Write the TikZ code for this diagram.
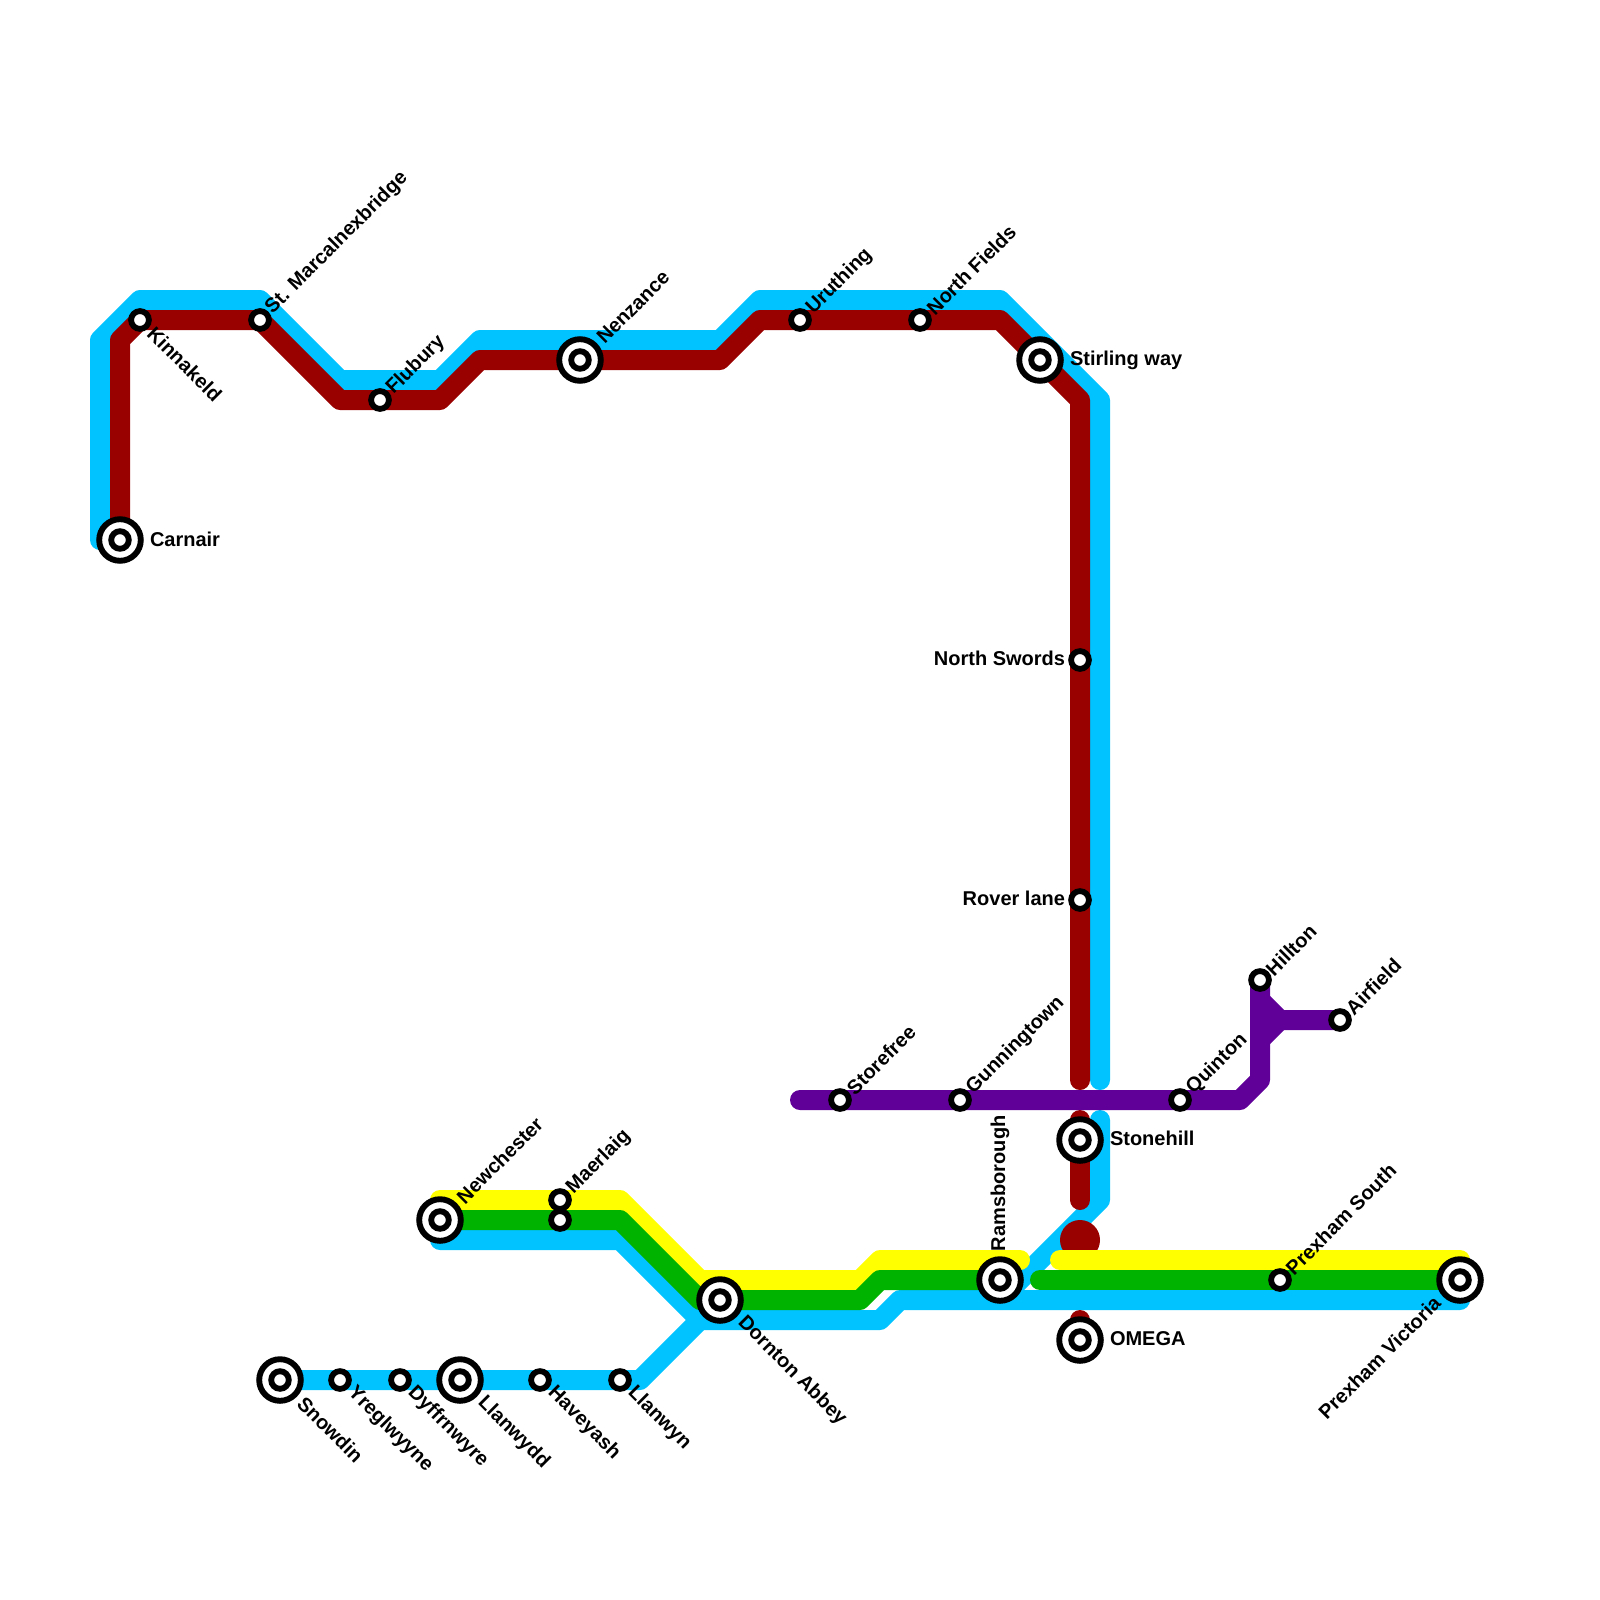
\documentclass[tikz,border=0pt]{standalone}
\usepackage{fontspec}
\setmainfont{Liberation Sans}
\definecolor{lblue}{HTML}{00C3FF}
\definecolor{lred}{HTML}{990000}
\definecolor{lgreen}{HTML}{00B300}
\definecolor{lyellow}{HTML}{FFFF00}
\definecolor{lpurple}{HTML}{600099}
\tikzset{
  route/.style={line width=20pt,line cap=round,line join=round},
  smallst/.style={circle,draw=black,fill=white,line width=5.8pt,minimum size=17.8pt,inner sep=0pt,outer sep=0pt},
  bigst/.style={circle,draw=black,fill=white,line width=5.9pt,minimum size=41.6pt,inner sep=0pt,outer sep=0pt},
  innerring/.style={draw=black,fill=white,line width=5.85pt},
  lab/.style={inner sep=0pt,outer sep=0pt,text=black,font=\fontsize{20}{24}\selectfont\bfseries},
  labur/.style={lab,rotate=45,anchor=west},
  labdr/.style={lab,rotate=-45,anchor=west},
  labdl/.style={lab,rotate=45,anchor=east},
  labr/.style={lab,anchor=west},
  labl/.style={lab,anchor=east},
  labu/.style={lab,rotate=90,anchor=west},
}
\begin{document}
\begin{tikzpicture}[x=1pt,y=-1pt]
\useasboundingbox (0,0) rectangle (1600,1600);
\fill[white] (0,0) rectangle (1600,1600);
% station positions
\coordinate (pCarnair) at (120,540);
\coordinate (pKinnakeld) at (140,320);
\coordinate (pMarc) at (260,320);
\coordinate (pFlubury) at (380,400);
\coordinate (pNenzance) at (580,360);
\coordinate (pUruthing) at (800,320);
\coordinate (pNorthFields) at (920,320);
\coordinate (pStirling) at (1040,360);
\coordinate (pNorthSwords) at (1080,660);
\coordinate (pRover) at (1080,900);
\coordinate (pStorefree) at (840,1100);
\coordinate (pGunning) at (960,1100);
\coordinate (pQuinton) at (1180,1100);
\coordinate (pHillton) at (1260,980);
\coordinate (pAirfield) at (1340,1020);
\coordinate (pStonehill) at (1080,1140);
\coordinate (pOmega) at (1080,1340);
\coordinate (pRams) at (1000,1280);
\coordinate (pPrexS) at (1280,1280);
\coordinate (pPrexV) at (1460,1280);
\coordinate (pDornton) at (720,1300);
\coordinate (pNewch) at (440,1220);
\coordinate (pMaer) at (560,1200);
\coordinate (pMaerB) at (560,1220);
\coordinate (pSnowdin) at (280,1380);
\coordinate (pLlanwyn) at (620,1380);
% blue way points
\coordinate (b1) at (100,540);\coordinate (b2) at (100,340);\coordinate (b3) at (140,300);
\coordinate (b4) at (260,300);\coordinate (b5) at (340,380);\coordinate (b6) at (440,380);
\coordinate (b7) at (480,340);\coordinate (b8) at (720,340);\coordinate (b9) at (760,300);
\coordinate (b10) at (1000,300);\coordinate (b11) at (1100,400);\coordinate (b12) at (1100,1080);
\coordinate (b13) at (1100,1120);\coordinate (b14) at (1100,1200);\coordinate (b15) at (1000,1300);
\coordinate (b16) at (440,1240);\coordinate (b17) at (620,1240);\coordinate (b18) at (700,1320);
\coordinate (b19) at (880,1320);\coordinate (b20) at (900,1300);\coordinate (b21) at (1460,1300);
\coordinate (b22) at (640,1380);
% red way points
\coordinate (r2) at (120,340);\coordinate (r5) at (340,400);\coordinate (r6) at (440,400);
\coordinate (r7) at (480,360);\coordinate (r8) at (720,360);\coordinate (r9) at (760,320);
\coordinate (r10) at (1000,320);\coordinate (r11) at (1080,400);\coordinate (r12) at (1080,1080);
\coordinate (r13) at (1080,1120);\coordinate (r14) at (1080,1200);\coordinate (r15) at (1080,1240);
\coordinate (r16) at (1080,1320);
% green way points
\coordinate (g1) at (620,1220);\coordinate (g2) at (700,1300);\coordinate (g3) at (860,1300);
\coordinate (g4) at (880,1280);\coordinate (g5) at (1040,1280);
% yellow way points
\coordinate (y0) at (440,1200);\coordinate (y1) at (620,1200);\coordinate (y2) at (700,1280);
\coordinate (y3) at (860,1280);\coordinate (y4) at (880,1260);\coordinate (y5) at (1020,1260);
\coordinate (y6) at (1060,1260);\coordinate (y7) at (1460,1260);
% purple way points
\coordinate (u0) at (800,1100);\coordinate (u1) at (1240,1100);\coordinate (u2) at (1260,1080);
\coordinate (u3) at (1260,1000);\coordinate (u4) at (1280,1020);\coordinate (u5) at (1260,1040);
% lines
\draw[route,lblue] (b1)--(b2)--(b3)--(b4)--(b5)--(b6)--(b7)--(b8)--(b9)--(b10)--(b11)--(b12);
\draw[route,lblue] (b13)--(b14)--(b15);
\draw[route,lblue] (b16)--(b17)--(b18)--(b19)--(b20)--(b21);
\draw[route,lblue] (pSnowdin)--(b22)--(b18);
\draw[route,lred] (pCarnair)--(r2)--(pKinnakeld)--(pMarc)--(r5)--(r6)--(r7)--(r8)--(r9)--(r10)--(r11)--(r12);
\draw[route,lred] (r13)--(r14);
\fill[lred] (r15) circle (20pt);
\draw[route,lred] (r16)--(pOmega);
\draw[route,lpurple] (u0)--(u1)--(u2)--(pHillton);
\draw[route,lpurple] (u3)--(u4)--(pAirfield);
\draw[route,lpurple] (u5)--(u4);
\draw[route,lyellow] (y0)--(y1)--(y2)--(y3)--(y4)--(y5);
\draw[route,lyellow] (y6)--(y7);
\draw[route,lgreen] (pNewch)--(g1)--(g2)--(g3)--(g4)--(pRams);
\draw[route,lgreen] (g5)--(pPrexV);
% stations
\node[bigst] (Carnair) at (pCarnair) {};
\node[smallst] (Kinnakeld) at (pKinnakeld) {};
\node[smallst] (Marc) at (pMarc) {};
\node[smallst] (Flubury) at (pFlubury) {};
\node[bigst] (Nenzance) at (pNenzance) {};
\node[smallst] (Uruthing) at (pUruthing) {};
\node[smallst] (NorthFields) at (pNorthFields) {};
\node[bigst] (Stirling) at (pStirling) {};
\node[smallst] (NorthSwords) at (pNorthSwords) {};
\node[smallst] (Rover) at (pRover) {};
\node[smallst] (Storefree) at (pStorefree) {};
\node[smallst] (Gunning) at (pGunning) {};
\node[smallst] (Quinton) at (pQuinton) {};
\node[smallst] (Hillton) at (pHillton) {};
\node[smallst] (Airfield) at (pAirfield) {};
\node[bigst] (Stonehill) at (pStonehill) {};
\node[bigst] (Omega) at (pOmega) {};
\node[bigst] (Rams) at (pRams) {};
\node[smallst] (PrexS) at (pPrexS) {};
\node[bigst] (PrexV) at (pPrexV) {};
\node[bigst] (Dornton) at (pDornton) {};
\node[bigst] (Newch) at (pNewch) {};
\node[smallst] (Maer) at (pMaer) {};
\node[smallst] (MaerB) at (pMaerB) {};
\node[bigst] (Snowdin) at (pSnowdin) {};
\node[smallst] (Yreg) at (340,1380) {};
\node[smallst] (Dyff) at (400,1380) {};
\node[bigst] (Llanwydd) at (460,1380) {};
\node[smallst] (Haveyash) at (540,1380) {};
\node[smallst] (Llanwyn) at (pLlanwyn) {};
\foreach \st in {Carnair,Nenzance,Stirling,Stonehill,Omega,Rams,PrexV,Dornton,Newch,Snowdin,Llanwydd}
  \draw[innerring] (\st.center) circle (8.8pt);
% labels
\node[labr] (tCarnair) at (150,539) {Carnair};
\node[labdr] (tKinnakeld) at (151,330) {Kinnakeld};
\node[labur] (tMarc) at (269,311) {St. Marcalnexbridge};
\node[labur] (tFlubury) at (390,391) {Flubury};
\node[labur] (tNenzance) at (600,340) {Nenzance};
\node[labur] (tUruthing) at (810,311) {Uruthing};
\node[labur] (tNorthFields) at (930,311) {North Fields};
\node[labr] (tStirling) at (1070,360) {Stirling way};
\node[labl] (tNorthSwords) at (1065,658) {North Swords};
\node[labl] (tRover) at (1065,898) {Rover lane};
\node[labur] (tStorefree) at (850,1091) {Storefree};
\node[labur] (tGunning) at (970,1091) {Gunningtown};
\node[labur] (tQuinton) at (1190,1091) {Quinton};
\node[labur] (tHillton) at (1269,972) {Hillton};
\node[labur] (tAirfield) at (1349,1011) {Airfield};
\node[labr] (tStonehill) at (1110,1138) {Stonehill};
\node[labr] (tOmega) at (1110,1339) {OMEGA};
\node[labu] (tRams) at (1000,1251) {Ramsborough};
\node[labur] (tPrexS) at (1289,1271) {Prexham South};
\node[labdl] (tPrexV) at (1437,1300) {Prexham Victoria};
\node[labdr] (tDornton) at (741,1320) {Dornton Abbey};
\node[labur] (tNewch) at (460,1200) {Newchester};
\node[labur] (tMaer) at (570,1191) {Maerlaig};
\node[labdr] (tSnowdin) at (301,1400) {Snowdin};
\node[labdr] (tYreg) at (351,1390) {Yreglwyyne};
\node[labdr] (tDyff) at (411,1390) {Dyffrnwyre};
\node[labdr] (tLlanwydd) at (481,1400) {Llanwydd};
\node[labdr] (tHaveyash) at (551,1390) {Haveyash};
\node[labdr] (tLlanwyn) at (631,1390) {Llanwyn};
\end{tikzpicture}
\end{document}
